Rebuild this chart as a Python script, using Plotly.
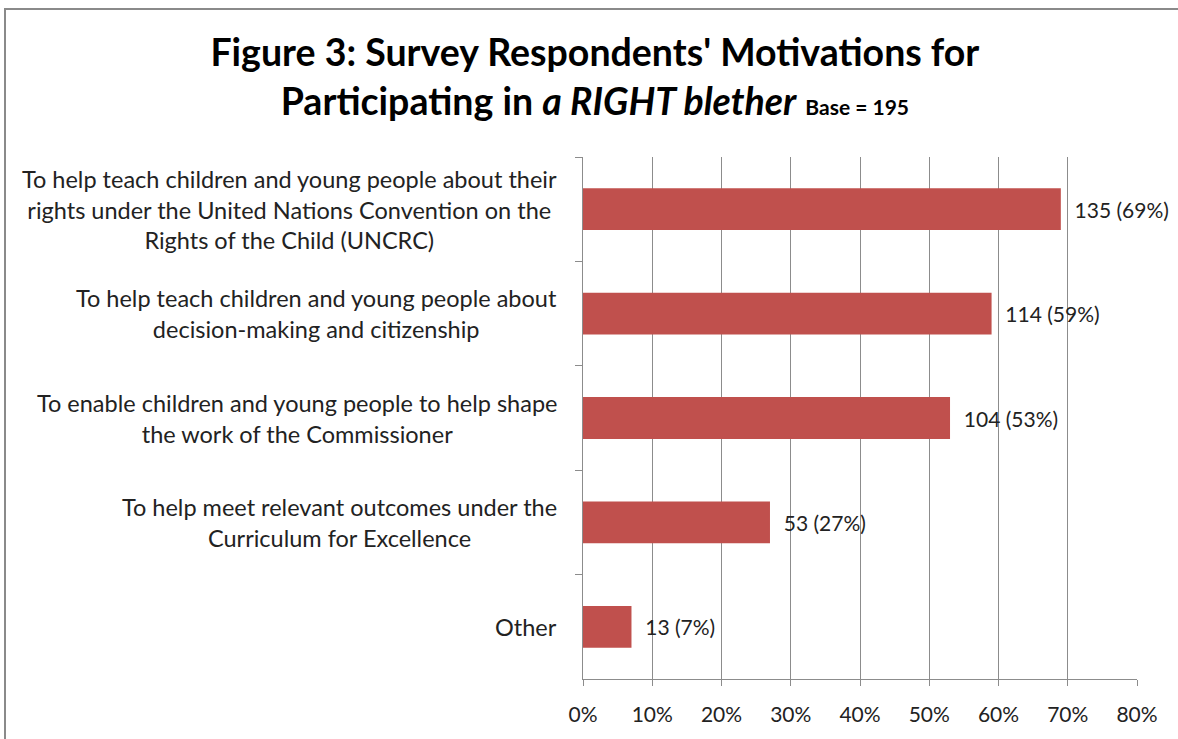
import plotly.graph_objects as go

categories = [
    "To help teach children and young people about their<br>rights under the United Nations Convention on the<br>Rights of the Child (UNCRC)",
    "To help teach children and young people about<br>decision-making and citizenship",
    "To enable children and young people to help shape<br>the work of the Commissioner",
    "To help meet relevant outcomes under the<br>Curriculum for Excellence",
    "Other",
]
counts = [135, 114, 104, 53, 13]
percents = [69, 59, 53, 27, 7]
x_ticks = [0, 10, 20, 30, 40, 50, 60, 70, 80]

FONT = "Lato"
W, H = 1178, 739
L, R, T, B = 583, 41, 157, 60

fig = go.Figure()
fig.add_trace(go.Bar(
    y=categories,
    x=[p / 100 for p in percents],
    orientation="h",
    marker=dict(color="#C0504D", line=dict(width=0)),
    text=["\u00a0\u00a0" + f"{c} ({p}%)" for c, p in zip(counts, percents)],
    textposition="outside",
    cliponaxis=False,
    constraintext="none",
    textfont=dict(family=FONT, size=21, color="#222222"),
    hoverinfo="skip",
))

for cat in categories:
    fig.add_annotation(
        x=0, y=cat, xref="x", yref="y", text=cat, showarrow=False,
        xanchor="right", yanchor="middle", align="center", xshift=-24,
        font=dict(family=FONT, size=23.5, color="#222222"),
    )

pw = W - L - R
ph = H - T - B
fig.add_shape(
    type="rect", xref="paper", yref="paper",
    x0=(5 - L) / pw, x1=(1190 - L) / pw,
    y0=-(H + 10 - (H - B)) / ph, y1=((H - B) - 9) / ph,
    line=dict(color="#8a8a8a", width=2), fillcolor="rgba(0,0,0,0)", layer="below",
)

fig.update_layout(
    width=W, height=H,
    margin=dict(l=L, r=R, t=T, b=B),
    paper_bgcolor="white", plot_bgcolor="white",
    showlegend=False,
    bargap=0.6,
    title=dict(
        text="<b>Figure 3: Survey Respondents' Motivations for<br>Participating in <i>a RIGHT blether</i> <span style='font-size:21px'>Base = 195</span></b>",
        x=0.505, xanchor="center", y=0.911, yanchor="top",
        font=dict(family=FONT, size=37.5, color="#000000"),
    ),
    xaxis=dict(
        range=[0, 0.8],
        tickvals=[t / 100 for t in x_ticks],
        ticktext=[f"{t}%" for t in x_ticks],
        showgrid=True, gridcolor="#8c8c8c", gridwidth=1,
        showline=True, linecolor="#8c8c8c", linewidth=1,
        ticks="outside", ticklen=6, tickcolor="#8c8c8c",
        ticklabelstandoff=11,
        tickfont=dict(family=FONT, size=21, color="#222222"),
        zeroline=False, fixedrange=True,
    ),
    yaxis=dict(
        autorange="reversed",
        showticklabels=False,
        showline=True, linecolor="#8c8c8c", linewidth=1,
        ticks="outside", ticklen=7, tickcolor="#8c8c8c",
        tickson="boundaries",
        showgrid=False, fixedrange=True,
    ),
)

fig.write_html("out.html", config={"displayModeBar": False},
               post_script="document.body.style.margin='0';")
